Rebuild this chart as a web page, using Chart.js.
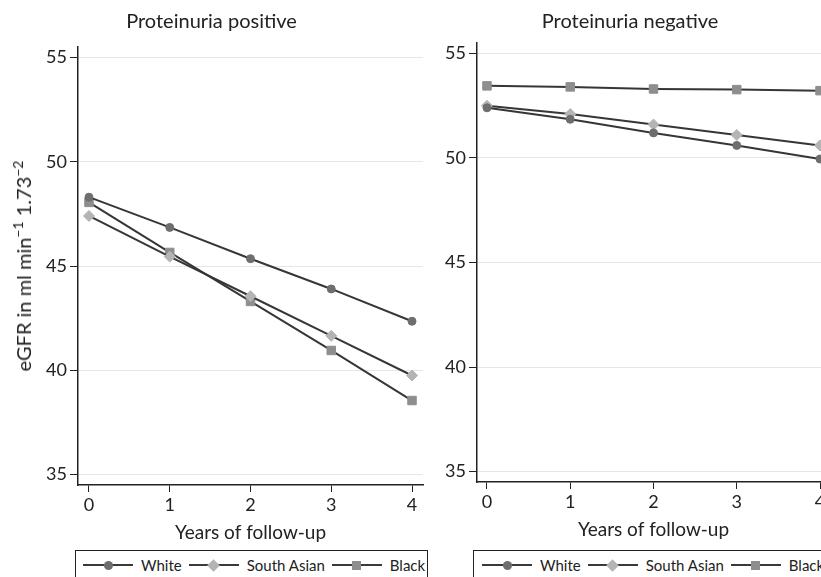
<!DOCTYPE html>
<html>
<head>
<meta charset="utf-8">
<title>eGFR by ethnicity</title>
<script src="https://cdn.jsdelivr.net/npm/chart.js@4.4.1/dist/chart.umd.min.js"></script>
<style>
  body { margin: 0; width: 821px; height: 577px; overflow: hidden; background: #fff; position: relative; font-family: Lato, sans-serif; color: #222; }
  .panel { position: absolute; top: 0; height: 548px; }
  #left { left: 0; width: 430px; }
  #right { left: 430px; width: 410px; }
  .ytitle { position: absolute; left: 23px; top: 266px; transform: translate(-50%, -50%) rotate(-90deg); font-size: 20px; white-space: nowrap; }
  .ytitle sup { font-size: 14px; line-height: 0; }
  .legend { position: absolute; top: 550px; height: 30px; border: 1px solid #222; display: flex; align-items: center; box-sizing: border-box; padding-left: 7px; font-size: 15px; white-space: nowrap; }
  .sym { position: relative; width: 50px; height: 2px; background: #3a3a3a; margin-right: 8px; flex: none; }
  .mk { position: absolute; left: 50%; top: 50%; }
  .lab { margin-right: 7px; }
</style>
</head>
<body>
<div class="panel" id="left"><canvas id="posChart"></canvas></div>
<div class="panel" id="right"><canvas id="negChart"></canvas></div>
<div class="ytitle">eGFR in ml min<sup>&minus;1</sup> 1.73<sup>&minus;2</sup></div>
<div class="legend" id="legLeft" style="left:75px; width:353px;"></div>
<div class="legend" id="legRight" style="left:473px; width:380px; padding-left:8px;"></div>
<script>
/* data */
const years = [0, 1, 2, 3, 4];
const yTicks = [35, 40, 45, 50, 55];
const seriesNames = ["White", "South Asian", "Black"];

// proteinuria positive
const posWhite = [48.3, 46.85, 45.35, 43.9, 42.35];
const posSouthAsian = [47.4, 45.45, 43.55, 41.65, 39.75];
const posBlack = [48.05, 45.65, 43.3, 40.95, 38.55];

// proteinuria negative
const negWhite = [52.4, 51.85, 51.2, 50.6, 49.95];
const negSouthAsian = [52.5, 52.1, 51.6, 51.1, 50.6];
const negBlack = [53.45, 53.4, 53.3, 53.27, 53.22];

/* styles */
const lineColor = "#363636";
const textColor = "#222";
const markColors = ["#6e6e6e", "#b4b4b4", "#8e8e8e"];
const markShapes = ["circle", "rectRot", "rect"];
const markRadius = [4, 5.5, 6];

function font(size) {
  return { family: "Lato", size: size };
}

function makeDatasets(white, southAsian, black) {
  return [white, southAsian, black].map((vals, i) => ({
    label: seriesNames[i],
    data: years.map((yr, j) => ({ x: yr, y: vals[j] })),
    borderColor: lineColor,
    borderWidth: 2,
    pointStyle: markShapes[i],
    pointRadius: markRadius[i],
    pointBackgroundColor: markColors[i],
    pointBorderColor: markColors[i],
    pointBorderWidth: 1,
    tension: 0,
  }));
}

function makeChart(id, titleText, datasets, p) {
  return new Chart(document.getElementById(id), {
    type: "line",
    data: { datasets: datasets },
    options: {
      responsive: true,
      maintainAspectRatio: false,
      animation: false,
      layout: { padding: { left: 0, right: p.padRight, top: 0, bottom: 0 } },
      plugins: {
        legend: { display: false },
        tooltip: { enabled: false },
        title: {
          display: true,
          text: titleText,
          color: textColor,
          font: { family: "Lato", size: 20, weight: "normal" },
          padding: { top: 10, bottom: p.titleBottom },
        },
      },
      scales: {
        x: {
          type: "linear",
          min: p.xMin,
          max: p.xMax,
          afterBuildTicks: (s) => { s.ticks = years.map((v) => ({ value: v })); },
          afterFit: (s) => { s.height = p.xHeight; },
          grid: { drawOnChartArea: false, tickColor: textColor, tickLength: 7, tickWidth: 1 },
          border: { color: textColor, width: 1.5 },
          ticks: { color: textColor, font: font(18), padding: 2, maxRotation: 0 },
          title: {
            display: true,
            text: "Years of follow-up",
            color: textColor,
            font: font(19),
            padding: { top: 0, bottom: p.xTitlePad },
          },
        },
        y: {
          min: 34.5,
          max: 55.5,
          afterBuildTicks: (s) => { s.ticks = yTicks.map((v) => ({ value: v })); },
          afterFit: (s) => { s.width = p.yWidth; },
          grid: { color: "#e6e6e6", lineWidth: 1, tickColor: textColor, tickLength: 8, tickWidth: 1 },
          border: { color: textColor, width: 1.5 },
          ticks: { color: textColor, font: font(18), padding: 3 },
        },
      },
    },
  });
}

makeChart("posChart", "Proteinuria positive", makeDatasets(posWhite, posSouthAsian, posBlack), {
  padRight: 7, titleBottom: 13, xMin: -0.136, xMax: 4.136, xHeight: 63, xTitlePad: 3.6, yWidth: 78,
});

makeChart("negChart", "Proteinuria negative", makeDatasets(negWhite, negSouthAsian, negBlack), {
  padRight: 10, titleBottom: 9, xMin: -0.12, xMax: 4.12, xHeight: 66, xTitlePad: 6.6, yWidth: 47,
});

/* legend boxes */
function markerHtml(i) {
  let c = markColors[i];
  let base = `width:9px;height:9px;margin:-4.5px 0 0 -4.5px;background:${c};`;
  if (markShapes[i] === "circle") return `<span class="mk" style="${base}border-radius:50%"></span>`;
  if (markShapes[i] === "rectRot") return `<span class="mk" style="${base}transform:rotate(45deg)"></span>`;
  return `<span class="mk" style="${base}"></span>`;
}

function buildLegend(id) {
  let html = "";
  seriesNames.forEach((name, i) => {
    html += `<span class="sym">${markerHtml(i)}</span><span class="lab">${name}</span>`;
  });
  document.getElementById(id).innerHTML = html;
}
buildLegend("legLeft");
buildLegend("legRight");
</script>
</body>
</html>
